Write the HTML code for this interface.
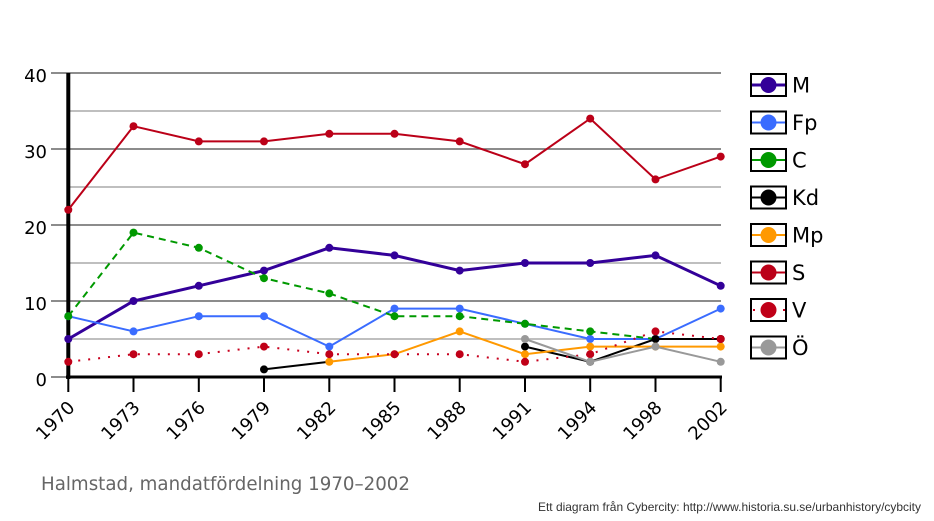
<!DOCTYPE html>
<html><head><meta charset="utf-8"><style>
html,body{margin:0;padding:0;background:#fff;}
svg{display:block;}
</style></head><body>
<svg width="934" height="521" viewBox="0 0 934 521" xmlns="http://www.w3.org/2000/svg">
<rect width="934" height="521" fill="#fff"/>
<!-- minor grid -->
<g stroke="#aaaaaa" stroke-width="1.5">
<line x1="68" y1="111" x2="721" y2="111"/>
<line x1="68" y1="187" x2="721" y2="187"/>
<line x1="68" y1="263" x2="721" y2="263"/>
<line x1="68" y1="339" x2="721" y2="339"/>
</g>
<!-- major grid -->
<g stroke="#666666" stroke-width="1.5">
<line x1="51" y1="73" x2="721" y2="73"/>
<line x1="51" y1="149" x2="721" y2="149"/>
<line x1="51" y1="225" x2="721" y2="225"/>
<line x1="51" y1="301" x2="721" y2="301"/>
<line x1="51" y1="377" x2="68" y2="377"/>
</g>
<!-- axes -->
<line x1="68.3" y1="73" x2="68.3" y2="379" stroke="#000" stroke-width="4"/>
<line x1="66" y1="377" x2="722" y2="377" stroke="#000" stroke-width="3"/>
<g stroke="#000" stroke-width="2">
<line x1="68.3" y1="377" x2="68.3" y2="392"/>
<line x1="133.5" y1="377" x2="133.5" y2="392"/>
<line x1="198.8" y1="377" x2="198.8" y2="392"/>
<line x1="264" y1="377" x2="264" y2="392"/>
<line x1="329.3" y1="377" x2="329.3" y2="392"/>
<line x1="394.5" y1="377" x2="394.5" y2="392"/>
<line x1="459.7" y1="377" x2="459.7" y2="392"/>
<line x1="525" y1="377" x2="525" y2="392"/>
<line x1="590.2" y1="377" x2="590.2" y2="392"/>
<line x1="655.5" y1="377" x2="655.5" y2="392"/>
<line x1="720.7" y1="377" x2="720.7" y2="392"/>
</g>
<!-- y labels -->
<g font-family="DejaVu Sans, Liberation Sans, sans-serif" font-size="18" fill="#000" text-anchor="end">
<text x="47" y="82">40</text>
<text x="47" y="158">30</text>
<text x="47" y="234">20</text>
<text x="47" y="310">10</text>
<text x="47" y="386">0</text>
</g>
<!-- x labels -->
<g font-family="DejaVu Sans, Liberation Sans, sans-serif" font-size="18" fill="#000" text-anchor="end">
<text transform="translate(75.8,408.6) rotate(-45)">1970</text>
<text transform="translate(141,408.6) rotate(-45)">1973</text>
<text transform="translate(206.3,408.6) rotate(-45)">1976</text>
<text transform="translate(271.5,408.6) rotate(-45)">1979</text>
<text transform="translate(336.8,408.6) rotate(-45)">1982</text>
<text transform="translate(402,408.6) rotate(-45)">1985</text>
<text transform="translate(467.2,408.6) rotate(-45)">1988</text>
<text transform="translate(532.5,408.6) rotate(-45)">1991</text>
<text transform="translate(597.7,408.6) rotate(-45)">1994</text>
<text transform="translate(663,408.6) rotate(-45)">1998</text>
<text transform="translate(728.2,408.6) rotate(-45)">2002</text>
</g>

<!-- M -->
<g stroke="#330099" fill="#330099">
<polyline fill="none" stroke-width="3" points="68.3,339 133.5,301 198.8,285.8 264,270.6 329.3,247.8 394.5,255.4 459.7,270.6 525,263 590.2,263 655.5,255.4 720.7,285.8"/>
<g stroke="none">
<circle cx="68.3" cy="339" r="4"/><circle cx="133.5" cy="301" r="4"/><circle cx="198.8" cy="285.8" r="4"/><circle cx="264" cy="270.6" r="4"/><circle cx="329.3" cy="247.8" r="4"/><circle cx="394.5" cy="255.4" r="4"/><circle cx="459.7" cy="270.6" r="4"/><circle cx="525" cy="263" r="4"/><circle cx="590.2" cy="263" r="4"/><circle cx="655.5" cy="255.4" r="4"/><circle cx="720.7" cy="285.8" r="4"/>
</g></g>
<!-- Fp -->
<g stroke="#3a6cff" fill="#3a6cff">
<polyline fill="none" stroke-width="2" points="68.3,316.2 133.5,331.4 198.8,316.2 264,316.2 329.3,346.6 394.5,308.6 459.7,308.6 525,323.8 590.2,339 655.5,339 720.7,308.6"/>
<g stroke="none">
<circle cx="68.3" cy="316.2" r="4"/><circle cx="133.5" cy="331.4" r="4"/><circle cx="198.8" cy="316.2" r="4"/><circle cx="264" cy="316.2" r="4"/><circle cx="329.3" cy="346.6" r="4"/><circle cx="394.5" cy="308.6" r="4"/><circle cx="459.7" cy="308.6" r="4"/><circle cx="525" cy="323.8" r="4"/><circle cx="590.2" cy="339" r="4"/><circle cx="655.5" cy="339" r="4"/><circle cx="720.7" cy="308.6" r="4"/>
</g></g>
<!-- C -->
<g stroke="#009900" fill="#009900">
<polyline fill="none" stroke-width="2" stroke-dasharray="7,5" points="68.3,316.2 133.5,232.6 198.8,247.8 264,278.2 329.3,293.4 394.5,316.2 459.7,316.2 525,323.8 590.2,331.4 655.5,339"/>
<g stroke="none">
<circle cx="68.3" cy="316.2" r="4"/><circle cx="133.5" cy="232.6" r="4"/><circle cx="198.8" cy="247.8" r="4"/><circle cx="264" cy="278.2" r="4"/><circle cx="329.3" cy="293.4" r="4"/><circle cx="394.5" cy="316.2" r="4"/><circle cx="459.7" cy="316.2" r="4"/><circle cx="525" cy="323.8" r="4"/><circle cx="590.2" cy="331.4" r="4"/>
</g></g>
<!-- Kd -->
<g stroke="#000" fill="#000">
<polyline fill="none" stroke-width="2" points="264,369.4 329.3,361.8"/>
<polyline fill="none" stroke-width="2" points="525,346.6 590.2,361.8 655.5,339 720.7,339"/>
<g stroke="none">
<circle cx="264" cy="369.4" r="4"/><circle cx="525" cy="346.6" r="4"/><circle cx="590.2" cy="361.8" r="4"/><circle cx="655.5" cy="339" r="4"/><circle cx="720.7" cy="339" r="4"/>
</g></g>
<!-- Mp -->
<g stroke="#ff9900" fill="#ff9900">
<polyline fill="none" stroke-width="2" points="329.3,361.8 394.5,354.2 459.7,331.4 525,354.2 590.2,346.6 655.5,346.6 720.7,346.6"/>
<g stroke="none">
<circle cx="329.3" cy="361.8" r="4"/><circle cx="394.5" cy="354.2" r="4"/><circle cx="459.7" cy="331.4" r="4"/><circle cx="525" cy="354.2" r="4"/><circle cx="590.2" cy="346.6" r="4"/><circle cx="655.5" cy="346.6" r="4"/><circle cx="720.7" cy="346.6" r="4"/>
</g></g>
<!-- S -->
<g stroke="#bb0018" fill="#bb0018">
<polyline fill="none" stroke-width="2" points="68.3,209.8 133.5,126.2 198.8,141.4 264,141.4 329.3,133.8 394.5,133.8 459.7,141.4 525,164.2 590.2,118.6 655.5,179.4 720.7,156.6"/>
<g stroke="none">
<circle cx="68.3" cy="209.8" r="4"/><circle cx="133.5" cy="126.2" r="4"/><circle cx="198.8" cy="141.4" r="4"/><circle cx="264" cy="141.4" r="4"/><circle cx="329.3" cy="133.8" r="4"/><circle cx="394.5" cy="133.8" r="4"/><circle cx="459.7" cy="141.4" r="4"/><circle cx="525" cy="164.2" r="4"/><circle cx="590.2" cy="118.6" r="4"/><circle cx="655.5" cy="179.4" r="4"/><circle cx="720.7" cy="156.6" r="4"/>
</g></g>
<!-- V -->
<g stroke="#c8001e" fill="#c00018">
<polyline fill="none" stroke-width="2" stroke-dasharray="2,8" points="68.3,361.8 133.5,354.2 198.8,354.2 264,346.6 329.3,354.2 394.5,354.2 459.7,354.2 525,361.8 590.2,354.2 655.5,331.4 720.7,339"/>
<g stroke="none">
<circle cx="68.3" cy="361.8" r="4"/><circle cx="133.5" cy="354.2" r="4"/><circle cx="198.8" cy="354.2" r="4"/><circle cx="264" cy="346.6" r="4"/><circle cx="329.3" cy="354.2" r="4"/><circle cx="394.5" cy="354.2" r="4"/><circle cx="459.7" cy="354.2" r="4"/><circle cx="525" cy="361.8" r="4"/><circle cx="590.2" cy="354.2" r="4"/><circle cx="655.5" cy="331.4" r="4"/><circle cx="720.7" cy="339" r="4"/>
</g></g>
<!-- Ö -->
<g stroke="#999999" fill="#999999">
<polyline fill="none" stroke-width="2" points="525,339 590.2,361.8 655.5,346.6 720.7,361.8"/>
<g stroke="none">
<circle cx="525" cy="339" r="4"/><circle cx="590.2" cy="361.8" r="4"/><circle cx="655.5" cy="346.6" r="4"/><circle cx="720.7" cy="361.8" r="4"/>
</g></g>

<!-- legend -->
<g font-family="DejaVu Sans, Liberation Sans, sans-serif" font-size="21" fill="#000">
<g transform="translate(0,0)">
<rect x="751" y="74" width="35" height="22" fill="#fff" stroke="#000" stroke-width="2"/>
<line x1="752" y1="85" x2="785" y2="85" stroke="#330099" stroke-width="3"/>
<circle cx="768.5" cy="85" r="8" fill="#330099"/>
<text x="792" y="92.7">M</text>
</g>
<g transform="translate(0,37.5)">
<rect x="751" y="74" width="35" height="22" fill="#fff" stroke="#000" stroke-width="2"/>
<line x1="752" y1="85" x2="785" y2="85" stroke="#3a6cff" stroke-width="2"/>
<circle cx="768.5" cy="85" r="8" fill="#3a6cff"/>
<text x="792" y="92.7">Fp</text>
</g>
<g transform="translate(0,75)">
<rect x="751" y="74" width="35" height="22" fill="#fff" stroke="#000" stroke-width="2"/>
<line x1="752" y1="85" x2="785" y2="85" stroke="#009900" stroke-width="2"/>
<circle cx="768.5" cy="85" r="8" fill="#009900"/>
<text x="792" y="92.7">C</text>
</g>
<g transform="translate(0,112.5)">
<rect x="751" y="74" width="35" height="22" fill="#fff" stroke="#000" stroke-width="2"/>
<line x1="752" y1="85" x2="785" y2="85" stroke="#000" stroke-width="2"/>
<circle cx="768.5" cy="85" r="8" fill="#000"/>
<text x="792" y="92.7">Kd</text>
</g>
<g transform="translate(0,150)">
<rect x="751" y="74" width="35" height="22" fill="#fff" stroke="#000" stroke-width="2"/>
<line x1="752" y1="85" x2="785" y2="85" stroke="#ff9900" stroke-width="2"/>
<circle cx="768.5" cy="85" r="8" fill="#ff9900"/>
<text x="792" y="92.7">Mp</text>
</g>
<g transform="translate(0,187.5)">
<rect x="751" y="74" width="35" height="22" fill="#fff" stroke="#000" stroke-width="2"/>
<line x1="752" y1="85" x2="785" y2="85" stroke="#bb0018" stroke-width="2"/>
<circle cx="768.5" cy="85" r="8" fill="#bb0018"/>
<text x="792" y="92.7">S</text>
</g>
<g transform="translate(0,225)">
<rect x="751" y="74" width="35" height="22" fill="#fff" stroke="#000" stroke-width="2"/>
<line x1="752" y1="85" x2="785" y2="85" stroke="#c8001e" stroke-width="2" stroke-dasharray="2,8" stroke-dashoffset="-1"/>
<circle cx="768.5" cy="85" r="8" fill="#c00018"/>
<text x="792" y="92.7">V</text>
</g>
<g transform="translate(0,262.5)">
<rect x="751" y="74" width="35" height="22" fill="#fff" stroke="#000" stroke-width="2"/>
<line x1="752" y1="85" x2="785" y2="85" stroke="#999999" stroke-width="2"/>
<circle cx="768.5" cy="85" r="8" fill="#999999"/>
<text x="792" y="92.7">Ö</text>
</g>
</g>

<!-- title -->
<text x="41" y="490" font-family="DejaVu Sans, Liberation Sans, sans-serif" font-size="19" fill="#666666" textLength="369" lengthAdjust="spacingAndGlyphs">Halmstad, mandatfördelning 1970–2002</text>
<text x="538" y="511" font-family="Liberation Sans, sans-serif" font-size="12" fill="#333" textLength="383" lengthAdjust="spacingAndGlyphs">Ett diagram från Cybercity: http://www.historia.su.se/urbanhistory/cybcity</text>
</svg>
</body></html>
